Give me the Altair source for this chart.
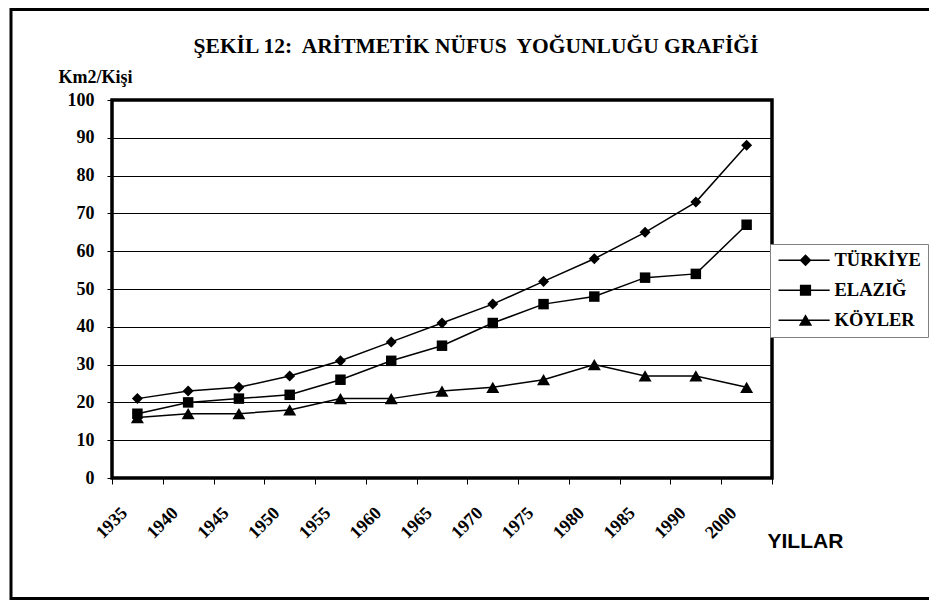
import altair as alt
import pandas as pd

# ---- data ----
years = ["1935", "1940", "1945", "1950", "1955", "1960", "1965",
         "1970", "1975", "1980", "1985", "1990", "2000"]
series_names = ["TÜRKİYE", "ELAZIĞ", "KÖYLER"]
turkiye = [21, 23, 24, 27, 31, 36, 41, 46, 52, 58, 65, 73, 88]
elazig = [17, 20, 21, 22, 26, 31, 35, 41, 46, 48, 53, 54, 67]
koyler = [16, 17, 17, 18, 21, 21, 23, 24, 26, 30, 27, 27, 24]
y_ticks = [0, 10, 20, 30, 40, 50, 60, 70, 80, 90, 100]

title_text = "ŞEKİL 12:\u00a0 ARİTMETİK NÜFUS\u00a0 YOĞUNLUĞU GRAFİĞİ"
y_title = "Km2/Kişi"
x_title = "YILLAR"

rows = []
for name, vals in zip(series_names, [turkiye, elazig, koyler]):
    for yr, v in zip(years, vals):
        rows.append({"year": yr, "value": v, "series": name})
df = pd.DataFrame(rows)

SERIF = "Liberation Serif"
SANS = "Liberation Sans"

x_enc = alt.X(
    "year:O", sort=years,
    scale=alt.Scale(type="band", domain=years, paddingInner=0, paddingOuter=0),
    axis=alt.Axis(
        title=x_title, titleFont=SANS, titleFontSize=21, titleFontWeight="bold",
        titleColor="black", titleX=655, titleY=63, titleAlign="left",
        titleBaseline="middle", titleAngle=0,
        labelAngle=315, labelAlign="right", labelBaseline="middle",
        labelFont=SERIF, labelFontSize=18, labelFontWeight="bold",
        labelColor="black", labelOffset=-13, labelPadding=26,
        labelOverlap=False, labelBound=False,
        tickBand="extent", tickSize=6, tickColor="black", tickWidth=1,
        domain=False, grid=False,
    ),
)
y_enc = alt.Y(
    "value:Q",
    scale=alt.Scale(domain=[0, 100], nice=False),
    axis=alt.Axis(
        values=y_ticks, title=y_title, titleAngle=0, titleX=-54, titleY=-23,
        titleAlign="left", titleBaseline="middle", titleFont=SERIF,
        titleFontSize=18, titleFontWeight="bold", titleColor="black",
        labelFont=SERIF, labelFontSize=18, labelFontWeight="bold",
        labelColor="black", labelPadding=13,
        tickSize=5, tickColor="black", tickWidth=1,
        grid=True, gridColor="black", gridWidth=1, domain=False,
    ),
)

frame = alt.Chart(alt.Data(values=[{}])).mark_rect(
    filled=False, stroke="black", strokeWidth=3
).encode(
    x=alt.value(-101), x2=alt.value(900), y=alt.value(-90.5), y2=alt.value(498.5)
)

lines = alt.Chart(df).mark_line(color="black", strokeWidth=1.5).encode(
    x=x_enc, y=y_enc, detail="series:N"
)

shapes = {"TÜRKİYE": ("diamond", 121), "ELAZIĞ": ("square", 110), "KÖYLER": ("triangle-up", 169)}
point_layers = []
for name in series_names:
    shp, sz = shapes[name]
    point_layers.append(
        alt.Chart(df).transform_filter(alt.datum.series == name).mark_point(
            filled=True, color="black", opacity=1, shape=shp, size=sz
        ).encode(x=x_enc, y=y_enc)
    )

# legend symbols: a short line (thin filled bar) with the marker on it
bar = "M-1.1,-0.1H6.2V0.1H-1.1Z"
legend_paths = [
    bar + "M2.75,-0.85L3.6,0L2.75,0.85L1.9,0Z",
    bar + "M1.95,-0.8H3.55V0.8H1.95Z",
    bar + "M2.75,-0.85L3.7,0.8L1.8,0.8Z",
]
legend_layer = alt.Chart(df).transform_filter("false").mark_point(
    filled=True, color="black", opacity=1
).encode(
    shape=alt.Shape(
        "series:N",
        scale=alt.Scale(domain=series_names, range=legend_paths),
        legend=alt.Legend(
            title=None, orient="none", legendX=658, legendY=144,
            direction="vertical", symbolSize=196,
            symbolFillColor="black",
            labelFont=SERIF, labelFontSize=18.5, labelFontWeight="bold",
            labelColor="black", labelOffset=39, rowPadding=11, padding=7,
            strokeColor="#808080", fillColor="white",
        ),
    )
)

chart = alt.layer(frame, lines, *point_layers, legend_layer).properties(
    width=660, height=378,
    title=alt.TitleParams(
        text=title_text, font=SERIF, fontSize=21.5, fontWeight="bold",
        color="black", anchor="middle", frame="group", dx=34, dy=60, offset=11,
    ),
    autosize=alt.AutoSizeParams(type="none"),
    padding={"left": 104, "top": 92, "right": 157, "bottom": 122},
    background="white",
).configure_view(stroke="black", strokeWidth=3.5)

chart.save("out.html", embed_options={"renderer": "svg", "actions": False})
